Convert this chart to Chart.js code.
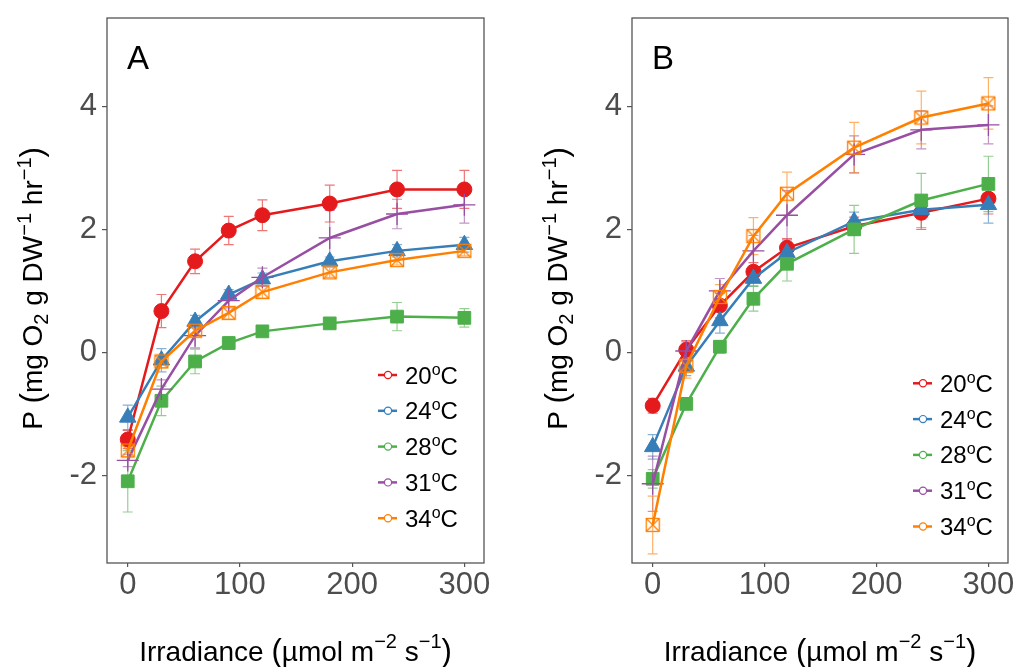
<!DOCTYPE html>
<html>
<head>
<meta charset="utf-8">
<script src="https://cdn.jsdelivr.net/npm/chart.js@4/dist/chart.umd.min.js"></script>
<style>
  body { margin: 0; background: #fff; }
  #wrap { position: relative; width: 1016px; height: 667px; overflow: hidden; }
  canvas { position: absolute; top: 0; }
</style>
</head>
<body>
<div id="wrap">
  <canvas id="chartA" width="510" height="667" style="left:0px"></canvas>
  <canvas id="chartB" width="509" height="667" style="left:525px"></canvas>
</div>
<script>
// irradiance levels (x axis)
var irradiance = [0, 30, 60, 90, 120, 180, 240, 300];
var tempLabels = ['20', '24', '28', '31', '34'];
var xTicks = [0, 100, 200, 300];
var yTicks = [-2, 0, 2, 4];

// panel A: mean P and error
var a20 = [-1.42, 0.67, 1.48, 1.98, 2.23, 2.42, 2.65, 2.65];
var a20err = [0.15, 0.27, 0.2, 0.23, 0.25, 0.3, 0.31, 0.31];
var a24 = [-1.06, -0.13, 0.5, 0.94, 1.19, 1.48, 1.65, 1.75];
var a24err = [0.2, 0.19, 0.1, 0.08, 0.1, 0.07, 0.1, 0.12];
var a28 = [-2.1, -0.79, -0.15, 0.15, 0.34, 0.47, 0.58, 0.56];
var a28err = [0.5, 0.24, 0.2, 0.1, 0.05, 0.07, 0.23, 0.15];
var a31 = [-1.76, -0.6, 0.27, 0.84, 1.22, 1.86, 2.25, 2.4];
var a31err = [0.1, 0.15, 0.2, 0.12, 0.15, 0.45, 0.24, 0.3];
var a34 = [-1.6, -0.15, 0.35, 0.64, 0.98, 1.3, 1.5, 1.65];
var a34err = [0.1, 0.1, 0.1, 0.1, 0.1, 0.08, 0.08, 0.08];

// panel B
var b20 = [-0.87, 0.04, 0.76, 1.31, 1.7, 2.05, 2.27, 2.5];
var b20err = [0.12, 0.15, 0.2, 0.15, 0.15, 0.15, 0.27, 0.25];
var b24 = [-1.54, -0.23, 0.51, 1.2, 1.62, 2.13, 2.32, 2.4];
var b24err = [0.2, 0.15, 0.2, 0.12, 0.12, 0.15, 0.15, 0.3];
var b28 = [-2.06, -0.84, 0.09, 0.87, 1.44, 2.0, 2.47, 2.74];
var b28err = [0.15, 0.1, 0.1, 0.2, 0.28, 0.39, 0.44, 0.45];
var b31 = [-2.14, 0.02, 1.0, 1.65, 2.23, 3.22, 3.62, 3.7];
var b31err = [0.45, 0.15, 0.2, 0.25, 0.4, 0.3, 0.31, 0.31];
var b34 = [-2.81, -0.22, 0.9, 1.89, 2.58, 3.33, 3.82, 4.05];
var b34err = [0.47, 0.2, 0.2, 0.3, 0.35, 0.41, 0.43, 0.42];

var colors = ['#e41a1c', '#377eb8', '#4daf4a', '#984ea3', '#ff7f00'];
var FONT = '"Liberation Sans", Arial, sans-serif';

function rgba(hex, a) {
  var n = parseInt(hex.slice(1), 16);
  return 'rgba(' + (n >> 16) + ',' + ((n >> 8) & 255) + ',' + (n & 255) + ',' + a + ')';
}

// open square with a cross inside (34 C marker)
function squareCross(color) {
  var c = document.createElement('canvas');
  c.width = 16; c.height = 16;
  var g = c.getContext('2d');
  g.strokeStyle = color;
  g.lineWidth = 1.3;
  g.strokeRect(1.5, 1.5, 13, 13);
  g.beginPath();
  g.moveTo(1.5, 1.5); g.lineTo(14.5, 14.5);
  g.moveTo(14.5, 1.5); g.lineTo(1.5, 14.5);
  g.stroke();
  return c;
}

var markers = [
  { style: 'circle', radius: 7.5, fill: true },
  { style: 'triangle', radius: 9.5, fill: true },
  { style: 'rect', radius: 9, fill: true },
  { style: 'cross', radius: 11, fill: false },
  { style: squareCross(colors[4]), radius: 8, fill: false }
];

// draw text made of runs (for superscripts / subscripts), centred on cx
function drawRuns(ctx, runs, cx, y, align) {
  var total = 0;
  runs.forEach(function (r) {
    ctx.font = r.s + 'px ' + FONT;
    r.w = ctx.measureText(r.t).width;
    total += r.w;
  });
  var x = align === 'left' ? cx : cx - total / 2;
  ctx.textAlign = 'left';
  ctx.textBaseline = 'alphabetic';
  runs.forEach(function (r) {
    ctx.font = r.s + 'px ' + FONT;
    ctx.fillText(r.t, x, y + (r.dy || 0));
    x += r.w;
  });
}

var yTitleRuns = [
  { t: 'P ', s: 28 }, { t: '(', s: 31 }, { t: 'mg O', s: 28 }, { t: '2', s: 20, dy: 6 },
  { t: ' g DW', s: 28 }, { t: '\u22121', s: 20, dy: -11 }, { t: ' hr', s: 28 },
  { t: '\u22121', s: 20, dy: -11 }, { t: ')', s: 31 }
];
var xTitleRuns = [
  { t: 'Irradiance ', s: 28 }, { t: '(', s: 31 }, { t: '\u00b5mol m', s: 28 },
  { t: '\u22122', s: 20, dy: -13 }, { t: ' s', s: 28 }, { t: '\u22121', s: 20, dy: -13 },
  { t: ')', s: 31 }
];

var decorPlugin = {
  id: 'decor',
  beforeDatasetsDraw: function (chart) {
    // error bars under the lines
    var ctx = chart.ctx, ys = chart.scales.y;
    ctx.save();
    chart.data.datasets.forEach(function (ds, i) {
      var meta = chart.getDatasetMeta(i);
      ctx.strokeStyle = rgba(ds.borderColor, 0.6);
      ctx.lineWidth = 1.2;
      meta.data.forEach(function (pt, j) {
        var v = ds.data[j].y, e = ds.errors[j];
        var y1 = ys.getPixelForValue(v - e), y2 = ys.getPixelForValue(v + e);
        ctx.beginPath();
        ctx.moveTo(pt.x, y1); ctx.lineTo(pt.x, y2);
        ctx.moveTo(pt.x - 5, y1); ctx.lineTo(pt.x + 5, y1);
        ctx.moveTo(pt.x - 5, y2); ctx.lineTo(pt.x + 5, y2);
        ctx.stroke();
      });
    });
    ctx.restore();
  },
  afterDraw: function (chart) {
    var ctx = chart.ctx, a = chart.chartArea, o = chart.options.plugins.decor;
    ctx.save();
    // panel border
    ctx.strokeStyle = '#555';
    ctx.lineWidth = 1.3;
    ctx.strokeRect(a.left, a.top, a.right - a.left, a.bottom - a.top);
    ctx.fillStyle = '#000';
    // panel letter
    ctx.font = '33px ' + FONT;
    ctx.textAlign = 'left';
    ctx.textBaseline = 'alphabetic';
    ctx.fillText(o.letter, a.left + 20, 68.5);
    // legend
    chart.data.datasets.forEach(function (ds, i) {
      var y = o.legendTop + i * 35.8;
      ctx.strokeStyle = ds.borderColor;
      ctx.lineWidth = 2.5;
      ctx.beginPath();
      ctx.moveTo(o.legendX, y); ctx.lineTo(o.legendX + 19, y);
      ctx.stroke();
      ctx.beginPath();
      ctx.arc(o.legendX + 10, y, 3.6, 0, Math.PI * 2);
      ctx.fillStyle = '#fff';
      ctx.fill();
      ctx.lineWidth = 1.2;
      ctx.stroke();
      ctx.fillStyle = '#000';
      drawRuns(ctx, [{ t: ds.label, s: 24 }, { t: 'o', s: 16, dy: -9 }, { t: 'C', s: 24 }],
        o.legendX + 27, y + 8.5, 'left');
    });
    // axis titles
    drawRuns(ctx, xTitleRuns, (a.left + a.right) / 2, 660.5);
    ctx.translate(42, (a.top + a.bottom) / 2 - 2);
    ctx.rotate(-Math.PI / 2);
    drawRuns(ctx, yTitleRuns, 0, 0);
    ctx.restore();
  }
};

function makeChart(id, series, errs, opts) {
  var datasets = series.map(function (vals, i) {
    var m = markers[i];
    return {
      label: tempLabels[i],
      data: irradiance.map(function (x, j) { return { x: x, y: vals[j] }; }),
      errors: errs[i],
      borderColor: colors[i],
      borderWidth: 2.5,
      pointStyle: m.style,
      pointRadius: m.radius,
      pointBackgroundColor: m.fill ? colors[i] : 'rgba(0,0,0,0)',
      pointBorderColor: colors[i],
      pointBorderWidth: m.fill ? 1 : 1.3,
      fill: false,
      tension: 0,
      order: 4 - i
    };
  });
  return new Chart(document.getElementById(id), {
    type: 'line',
    data: { datasets: datasets },
    plugins: [decorPlugin],
    options: {
      responsive: false,
      animation: false,
      devicePixelRatio: 1,
      layout: { padding: { top: 18, right: 26, bottom: 0, left: 0 } },
      plugins: {
        legend: { display: false },
        tooltip: { enabled: false },
        decor: { letter: opts.letter, legendX: opts.legendX, legendTop: opts.legendTop }
      },
      scales: {
        x: {
          type: 'linear', min: -18.5, max: 317.5,
          afterBuildTicks: function (s) { s.ticks = xTicks.map(function (v) { return { value: v }; }); },
          afterFit: function (s) { s.height = 104; s.paddingLeft = 0; s.paddingRight = 0; },
          grid: { drawOnChartArea: false, drawTicks: true, tickLength: 4, color: '#555', lineWidth: 1.2 },
          border: { display: false },
          ticks: { color: '#4d4d4d', font: { family: FONT, size: 31 }, padding: 0, maxRotation: 0 }
        },
        y: {
          type: 'linear', min: -3.43, max: 5.44,
          afterBuildTicks: function (s) { s.ticks = yTicks.map(function (v) { return { value: v }; }); },
          afterFit: function (s) { s.width = 107; s.paddingTop = 0; s.paddingBottom = 0; },
          grid: { drawOnChartArea: false, drawTicks: true, tickLength: 5, color: '#555', lineWidth: 1.2 },
          border: { display: false },
          ticks: { color: '#4d4d4d', font: { family: FONT, size: 31 }, padding: 5 }
        }
      }
    }
  });
}

makeChart('chartA', [a20, a24, a28, a31, a34], [a20err, a24err, a28err, a31err, a34err],
  { letter: 'A', legendX: 378, legendTop: 375 });
// panel B canvas runs past the page edge; the wrapper clips it like the original
makeChart('chartB', [b20, b24, b28, b31, b34], [b20err, b24err, b28err, b31err, b34err],
  { letter: 'B', legendX: 388, legendTop: 383.3 });
</script>
</body>
</html>
